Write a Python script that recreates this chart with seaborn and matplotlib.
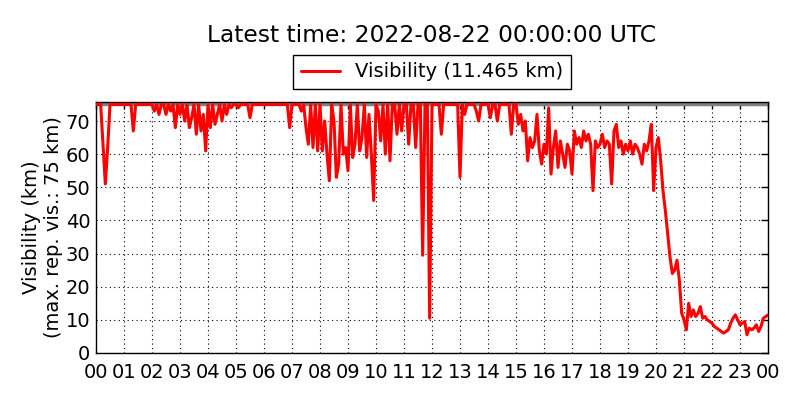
import numpy as np
import pandas as pd
import matplotlib
matplotlib.use("Agg")
import matplotlib.pyplot as plt
import seaborn as sns

# visibility (km), 5-minute values, capped at 75 km
vis_00_06 = [
    75, 75, 75, 63, 51, 62, 75, 75, 75, 75, 75, 75,
    75, 75, 75, 75, 67, 75, 75, 75, 75, 75, 75, 75,
    75, 73, 75, 72, 75, 75, 72, 75, 73, 75, 68, 75,
    72, 75, 70, 75, 68, 71, 75, 66, 75, 67, 72, 61,
    75, 68, 75, 69, 72, 75, 70, 75, 72, 75, 74, 75,
    75, 74, 75, 75, 75, 75, 71, 75, 75, 75, 75, 75,
]
vis_06_12 = [
    75, 75, 75, 75, 75, 75, 75, 75, 75, 75, 75, 68,
    75, 75, 75, 75, 73, 75, 68, 63, 75, 62, 75, 61,
    75, 61, 70, 60, 52, 75, 70, 53, 57, 75, 60, 62,
    55, 75, 59, 63, 75, 61, 65, 75, 59, 72, 60, 46,
    75, 73, 64, 75, 60, 75, 58, 75, 75, 66, 75, 67,
    75, 75, 63, 75, 75, 62, 75, 75, 29.5, 75, 75, 10.5,
]
vis_12_18 = [
    75, 75, 75, 75, 66, 75, 75, 75, 75, 75, 75, 75,
    53, 75, 72, 75, 75, 75, 75, 73, 70, 75, 75, 75,
    75, 71, 75, 75, 70, 75, 75, 75, 75, 75, 66, 75,
    75, 69, 72, 67, 70, 58, 65, 62, 64, 72, 61, 57,
    63, 60, 74, 54, 62, 67, 56, 64, 60, 56, 63, 61,
    54, 67, 63, 65, 62, 67, 64, 66, 63, 49, 64, 62,
]
vis_18_24 = [
    63, 66, 62, 64, 63, 51, 67, 69, 62, 64, 60, 63,
    61, 64, 60, 63, 62, 60, 57, 63, 61, 64, 69, 49,
    62, 65, 58, 49, 43, 36, 29, 24, 25, 28, 22, 12,
    10, 7, 15, 11, 13, 11, 12, 14, 10.5, 11, 10, 9.5,
    9, 8, 7.5, 7, 6.5, 6, 6.5, 7, 9, 10.5, 11.5, 10,
    8.5, 9, 9.5, 5.5, 7.5, 7, 7.5, 8.5, 6.5, 8, 10.5, 11,
    11.465,
]

max_vis = 75
latest = "2022-08-22 00:00:00 UTC"
hour_labels = ["%02d" % h for h in range(24)] + ["00"]

vis = vis_00_06 + vis_06_12 + vis_12_18 + vis_18_24
df = pd.DataFrame({"hour": np.arange(len(vis)) / 12.0, "vis": vis})

sns.set_style("white")
plt.rcParams["font.family"] = ["DejaVu Sans"]
plt.rcParams["text.color"] = "black"
plt.rcParams["axes.labelcolor"] = "black"
plt.rcParams["xtick.color"] = "black"
plt.rcParams["ytick.color"] = "black"
plt.rcParams["xtick.direction"] = "in"
plt.rcParams["ytick.direction"] = "in"
plt.rcParams["xtick.top"] = True
plt.rcParams["ytick.right"] = True

fig = plt.figure(figsize=(8, 4), dpi=100)
ax = fig.add_axes([0.12, 0.1175, 0.84, 0.628])

ax.axhline(max_vis, color="grey", lw=2.5, zorder=1)
sns.lineplot(data=df, x="hour", y="vis", ax=ax, color="red", lw=2.2,
             label="Visibility (%.3f km)" % vis[-1], zorder=3)

ax.set_xlim(0, 24)
ax.set_ylim(0, 75.8)
ax.set_xticks(range(25))
ax.set_xticklabels(hour_labels)
ax.set_yticks(range(0, 80, 10))
ax.tick_params(axis="both", labelsize=14, length=5, width=1, color="black")
ax.tick_params(axis="x", pad=7)
ax.tick_params(axis="y", pad=4)
ax.grid(True, color="black", ls=(0, (1, 3)), lw=0.8)
for s in ax.spines.values():
    s.set_color("black")
    s.set_linewidth(1)

ax.set_xlabel("")
ax.set_ylabel("Visibility (km)\n(max. rep. vis.: %d km)" % max_vis, fontsize=14,
              labelpad=2)

leg = ax.legend(loc="lower center", bbox_to_anchor=(0.5, 1.05), borderaxespad=0,
                fontsize=14, fancybox=False, framealpha=1, edgecolor="black",
                borderpad=0.4, handlelength=2)
leg.get_frame().set_linewidth(1)

fig.text(0.54, 0.9125, "Latest time: " + latest, ha="center", va="center",
         fontsize=16.8)

fig.savefig("out.png", dpi=100)
